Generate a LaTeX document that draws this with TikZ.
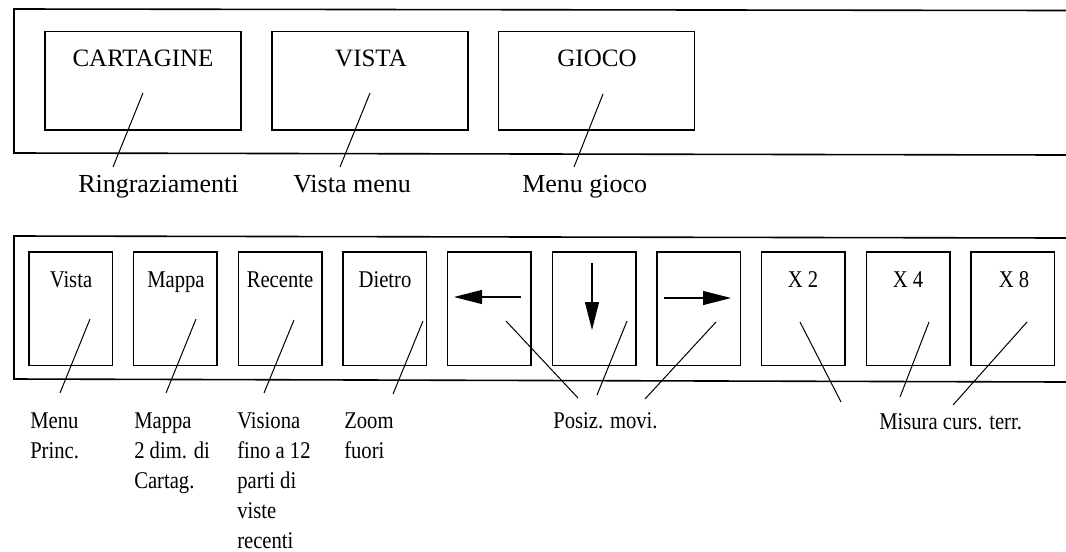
\documentclass[tikz,border=0pt]{standalone}
\usepackage{fontspec}
\setmainfont{Liberation Serif}
\newfontfamily\condfont[FakeStretch=0.86]{Liberation Serif}
\usetikzlibrary{arrows.meta}
\begin{document}
\begin{tikzpicture}[x=0.75pt,y=-0.75pt,
  panel/.style={line width=1.2pt},
  bigbox/.style={draw,line width=1.1pt,minimum width=147pt,minimum height=73.9pt,inner sep=0pt},
  keybox/.style={draw,line width=1.1pt,minimum width=62.6pt,minimum height=85.1pt,inner sep=0pt},
  bigtext/.style={anchor=base,inner sep=0pt,font=\fontsize{18.75}{22}\selectfont},
  toplabel/.style={anchor=base west,inner sep=0pt,font=\fontsize{19.5}{23}\selectfont},
  keytext/.style={anchor=base,inner sep=0pt,font=\condfont\fontsize{18}{22.5}\selectfont},
  keylabel/.style={anchor=base west,inner sep=0pt,font=\condfont\fontsize{18}{22.5}\selectfont},
  leader/.style={line width=0.75pt},
  movearrow/.style={line width=0.8pt,-{Triangle[length=21pt,width=10.5pt]}}
]
\useasboundingbox (0,0) rectangle (1066,551);

% panels (open on the right)
\draw[panel] (1066,10.5) -- (14,9) -- (14,153) -- (1066,155);
\draw[panel] (1066,238) -- (14,236) -- (14,379) -- (1066,382);

% top boxes
\node[bigbox] (cart)  at (143,80.75) {};
\node[bigbox] (vista) at (370,80.75) {};
\node[bigbox] (gioco) at (596.5,80.75) {};
\node[bigtext] (cartT)  at (143,66) {CARTAGINE};
\node[bigtext] (vistaT) at (371,66) {VISTA};
\node[bigtext] (giocoT) at (597,66) {GIOCO};

\node[toplabel] (ringr)  at (78,192.5)  {Ringraziamenti};
\node[toplabel] (vmenu)  at (293,192.5) {Vista menu};
\node[toplabel] (mgioco) at (522,192.5) {Menu gioco};

\coordinate (t1a) at (143,93);  \coordinate (t1b) at (113,167);
\coordinate (t2a) at (370,93);  \coordinate (t2b) at (340,167);
\coordinate (t3a) at (603,94);  \coordinate (t3b) at (574,167);
\draw[leader] (t1a) -- (t1b);
\draw[leader] (t2a) -- (t2b);
\draw[leader] (t3a) -- (t3b);

% bottom keys
\node[keybox] (k1)  at (70.75,308.75) {};
\node[keybox] (k2)  at (175.4,308.75) {};
\node[keybox] (k3)  at (280.1,308.75) {};
\node[keybox] (k4)  at (384.8,308.75) {};
\node[keybox] (k5)  at (489.4,308.75) {};
\node[keybox] (k6)  at (594.1,308.75) {};
\node[keybox] (k7)  at (698.8,308.75) {};
\node[keybox] (k8)  at (803.4,308.75) {};
\node[keybox] (k9)  at (908.1,308.75) {};
\node[keybox] (k10) at (1012.8,308.75) {};

\node[keytext] (k1T)  at (71,287)   {Vista};
\node[keytext] (k2T)  at (176,287)  {Mappa};
\node[keytext] (k3T)  at (280,287)  {Recente};
\node[keytext] (k4T)  at (385,287)  {Dietro};
\node[keytext] (k8T)  at (803,287)  {X 2};
\node[keytext] (k9T)  at (908,287)  {X 4};
\node[keytext] (k10T) at (1014,287) {X 8};

% movement arrows
\coordinate (a5s) at (521,297); \coordinate (a5e) at (454,297);
\coordinate (a6s) at (592,263); \coordinate (a6e) at (592,330);
\coordinate (a7s) at (664,298); \coordinate (a7e) at (731,298);
\draw[movearrow] (a5s) -- (a5e);
\draw[movearrow] (a6s) -- (a6e);
\draw[movearrow] (a7s) -- (a7e);

% bottom labels
\node[keylabel] (l1) at (30,428)  {\begin{tabular}[t]{@{}l@{}}Menu\\Princ.\end{tabular}};
\node[keylabel] (l2) at (134,428) {\begin{tabular}[t]{@{}l@{}}Mappa\\2 dim. di\\Cartag.\end{tabular}};
\node[keylabel] (l3) at (237,428) {\begin{tabular}[t]{@{}l@{}}Visiona\\fino a 12\\parti di\\viste\\recenti\end{tabular}};
\node[keylabel] (l4) at (344,428) {\begin{tabular}[t]{@{}l@{}}Zoom\\fuori\end{tabular}};
\node[keylabel] (l5) at (553,428) {Posiz. movi.};
\node[keylabel] (l6) at (879,429) {Misura curs. terr.};

% bottom leaders
\coordinate (b1a) at (90,319);   \coordinate (b1b) at (60,393);
\coordinate (b2a) at (196,319);  \coordinate (b2b) at (166,393);
\coordinate (b3a) at (294,320);  \coordinate (b3b) at (264,393);
\coordinate (b4a) at (423,321);  \coordinate (b4b) at (393,394);
\coordinate (b5a) at (506,321);  \coordinate (b5b) at (578,398);
\coordinate (b6a) at (627,321);  \coordinate (b6b) at (597,395);
\coordinate (b7a) at (716,322);  \coordinate (b7b) at (645,399);
\coordinate (b8a) at (800,322);  \coordinate (b8b) at (841,402);
\coordinate (b9a) at (929,322);  \coordinate (b9b) at (900,397);
\coordinate (b10a) at (1027,322); \coordinate (b10b) at (953,405);
\foreach \i in {1,...,10} {\draw[leader] (b\i a) -- (b\i b);}
\end{tikzpicture}
\end{document}
